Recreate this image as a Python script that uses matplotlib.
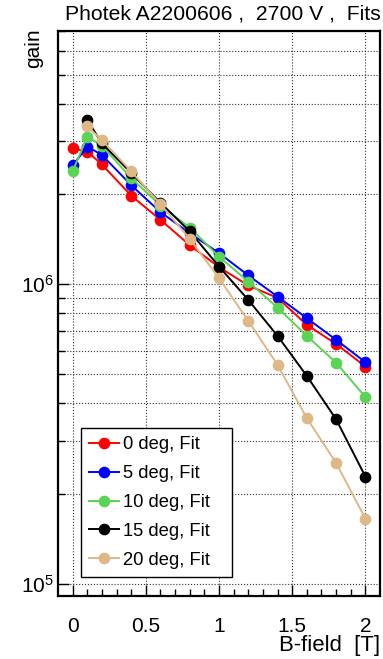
import numpy as np
import matplotlib
matplotlib.use("Agg")
import matplotlib.pyplot as plt
from matplotlib.ticker import FixedLocator, FuncFormatter, NullFormatter

plt.rcParams["font.family"] = ["Liberation Sans", "DejaVu Sans"]
plt.rcParams["mathtext.fontset"] = "custom"
plt.rcParams["mathtext.rm"] = "Liberation Sans"

# gain vs magnetic field for several tilt angles
b_field = [0, 0.1, 0.2, 0.4, 0.6, 0.8, 1.0, 1.2, 1.4, 1.6, 1.8, 2.0]
gain_0 = [2.84e6, 2.77e6, 2.51e6, 1.975e6, 1.64e6, 1.35e6, 1.14e6, 0.99e6, 0.90e6, 0.731e6, 0.632e6, 0.531e6]
gain_5 = [2.49e6, 2.88e6, 2.70e6, 2.14e6, 1.74e6, 1.48e6, 1.27e6, 1.07e6, 0.909e6, 0.77e6, 0.652e6, 0.549e6]
gain_10 = [2.38e6, 3.11e6, 2.90e6, 2.26e6, 1.83e6, 1.545e6, 1.236e6, 1.02e6, 0.835e6, 0.672e6, 0.547e6, 0.42e6]
b_field_tilt = b_field[1:]
gain_15 = [3.54e6, 2.95e6, 2.35e6, 1.87e6, 1.50e6, 1.145e6, 0.886e6, 0.672e6, 0.494e6, 0.354e6, 0.228e6]
gain_20 = [3.36e6, 3.03e6, 2.38e6, 1.85e6, 1.416e6, 1.047e6, 0.754e6, 0.538e6, 0.357e6, 0.253e6, 0.165e6]

labels = ["0 deg, Fit", "5 deg, Fit", "10 deg, Fit", "15 deg, Fit", "20 deg, Fit"]
colors = ["#ff0000", "#0000ff", "#59d454", "#000000", "#deb887"]
series = [(b_field, gain_0), (b_field, gain_5), (b_field, gain_10),
          (b_field_tilt, gain_15), (b_field_tilt, gain_20)]

W, H = 383, 659
fig = plt.figure(figsize=(W / 100, H / 100), dpi=100)
ax = fig.add_axes([58 / W, 1 - 596 / H, 322 / W, 565 / H])

for (x, y), c, lab in zip(series, colors, labels):
    ax.plot(x, y, "-o", color=c, lw=1.4, ms=7.4, mec=c, label=lab)

ax.set_yscale("log")
ax.set_xlim(-0.1, 2.1)
ax.set_ylim(9.1e4, 7.0e6)

ax.xaxis.set_major_locator(FixedLocator([0, 0.5, 1, 1.5, 2]))
ax.xaxis.set_minor_locator(FixedLocator(np.round(np.arange(0, 2.01, 0.1), 2)))
ax.xaxis.set_major_formatter(FuncFormatter(lambda v, p: f"{v:g}"))

ax.yaxis.set_major_locator(FixedLocator([1e5, 1e6]))
minors = [m * 1e5 for m in range(2, 10)] + [m * 1e6 for m in range(2, 8)]
ax.yaxis.set_minor_locator(FixedLocator(minors))
ax.yaxis.set_major_formatter(FuncFormatter(lambda v, p: r"$\mathregular{10^{%d}}$" % round(np.log10(v))))
ax.yaxis.set_minor_formatter(NullFormatter())

ax.tick_params(axis="both", which="both", direction="in", top=False, right=False)
ax.tick_params(axis="x", which="major", length=8, width=1, pad=15, labelsize=15)
ax.tick_params(axis="x", which="minor", length=5, width=1)
ax.tick_params(axis="y", which="major", length=8, width=1, pad=3, labelsize=15)
ax.tick_params(axis="y", which="minor", length=5, width=1)

ax.grid(True, which="major", axis="x", ls=":", lw=0.8, color="#333333")
ax.grid(True, which="both", axis="y", ls=":", lw=0.8, color="#333333")
ax.set_axisbelow(True)
for s in ax.spines.values():
    s.set_linewidth(1.6)

leg = ax.legend(loc="lower left", bbox_to_anchor=(81 / W, 1 - 577 / H, 151 / W, 143 / H),
                bbox_transform=fig.transFigure, mode="expand", borderaxespad=0,
                fontsize=13.2, handlelength=1.6, handletextpad=0.25, labelspacing=0.65,
                fancybox=False, framealpha=1, edgecolor="black", borderpad=0.45)
leg.get_frame().set_linewidth(1.0)

fig.text(223 / W, 1 - 14 / H, "Photek A2200606 ,  2700 V ,  Fits", ha="center", va="center", fontsize=15.2)
fig.text(34 / W, 1 - 28 / H, "gain", rotation=90, ha="center", va="top", fontsize=15)
fig.text(380 / W, 1 - 645 / H, "B-field  [T]", ha="right", va="center", fontsize=15.9)

fig.savefig("out.png", dpi=100)
